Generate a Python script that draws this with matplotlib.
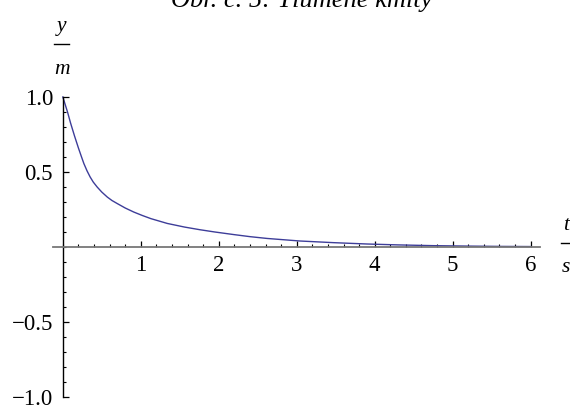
import numpy as np
import matplotlib
matplotlib.use('Agg')
import matplotlib.pyplot as plt
from matplotlib.ticker import MultipleLocator, FixedLocator
from matplotlib.lines import Line2D

# curve
t_vals = [0, 0.03, 0.06, 0.1, 0.15, 0.2, 0.24, 0.27, 0.31, 0.35, 0.39, 0.44,
          0.5, 0.57, 0.63, 0.7, 0.8, 0.91, 1.02, 1.13, 1.34, 1.56, 1.76,
          1.95, 2.19, 2.4, 2.62, 3.04, 3.47, 3.9, 4.3, 4.75, 5.2, 5.6, 6.0]
y_vals = [1.0, 0.95, 0.9, 0.825, 0.74, 0.66, 0.6, 0.556, 0.508, 0.467, 0.433,
          0.4, 0.366, 0.333, 0.31, 0.289, 0.26, 0.233, 0.21, 0.189, 0.157,
          0.133, 0.115, 0.1, 0.083, 0.069, 0.057, 0.04, 0.029, 0.02, 0.014,
          0.009, 0.006, 0.004, 0.003]

x_ticks = [1, 2, 3, 4, 5, 6]
y_ticks = [-1.0, -0.5, 0.5, 1.0]
title = 'Obr. č. 5: Tlumené kmity'

plt.rcParams['font.family'] = ['Liberation Serif', 'DejaVu Serif']

W, H = 570, 409
fig = plt.figure(figsize=(W / 100, H / 100), dpi=100)

def fx(px):
    return px / W

def fy(py):
    return 1 - py / H

ax = fig.add_axes([fx(52.7), fy(397), (540 - 52.7) / W, 300 / H])
ax.set_xlim(-0.13, 6.12)
ax.set_ylim(-1, 1)
ax.patch.set_alpha(0)

ax.plot(t_vals, y_vals, color='#3d3d99', lw=1.0, clip_on=False)

for s in ['top', 'right']:
    ax.spines[s].set_visible(False)
ax.spines['left'].set_position(('data', 0))
ax.spines['bottom'].set_position(('data', 0))
ax.spines['left'].set_bounds(-1, 1)
ax.spines['left'].set_linewidth(1.0)
ax.spines['bottom'].set_linewidth(1.3)
ax.spines['bottom'].set_color('#777777')

ax.xaxis.set_major_locator(FixedLocator(x_ticks))
ax.xaxis.set_minor_locator(MultipleLocator(0.2))
ax.yaxis.set_major_locator(FixedLocator(y_ticks))
ax.yaxis.set_minor_locator(MultipleLocator(0.1))
ax.set_xticklabels([str(v) for v in x_ticks])
ax.set_yticklabels([('%.1f' % v).replace('-', '\u2212') for v in y_ticks])

ax.tick_params(axis='both', which='both', direction='in', labelsize=16.5)
ax.tick_params(axis='x', which='major', length=4.5, width=0.9, pad=6)
ax.tick_params(axis='x', which='minor', length=2.5, width=0.8)
ax.tick_params(axis='y', which='major', length=4.5, width=0.9, pad=7)
ax.tick_params(axis='y', which='minor', length=2.5, width=0.8)

# axis labels written as fractions
fig.text(fx(62), fy(27), 'y', style='italic', fontsize=15.5, ha='center', va='center')
fig.add_artist(Line2D([fx(54), fx(69)], [fy(44), fy(44)], color='black', lw=1.0))
fig.text(fx(62), fy(70), 'm', style='italic', fontsize=15.5, ha='center', va='center')

fig.text(fx(566), fy(226), 't', style='italic', fontsize=15.5, ha='center', va='center')
fig.add_artist(Line2D([fx(561), fx(571)], [fy(243), fy(243)], color='black', lw=1.0))
fig.text(fx(566), fy(268), 's', style='italic', fontsize=15.5, ha='center', va='center')

fig.text(fx(302), fy(7), title, style='italic', fontsize=19, ha='center', va='baseline')

fig.savefig('out.png', dpi=100)
